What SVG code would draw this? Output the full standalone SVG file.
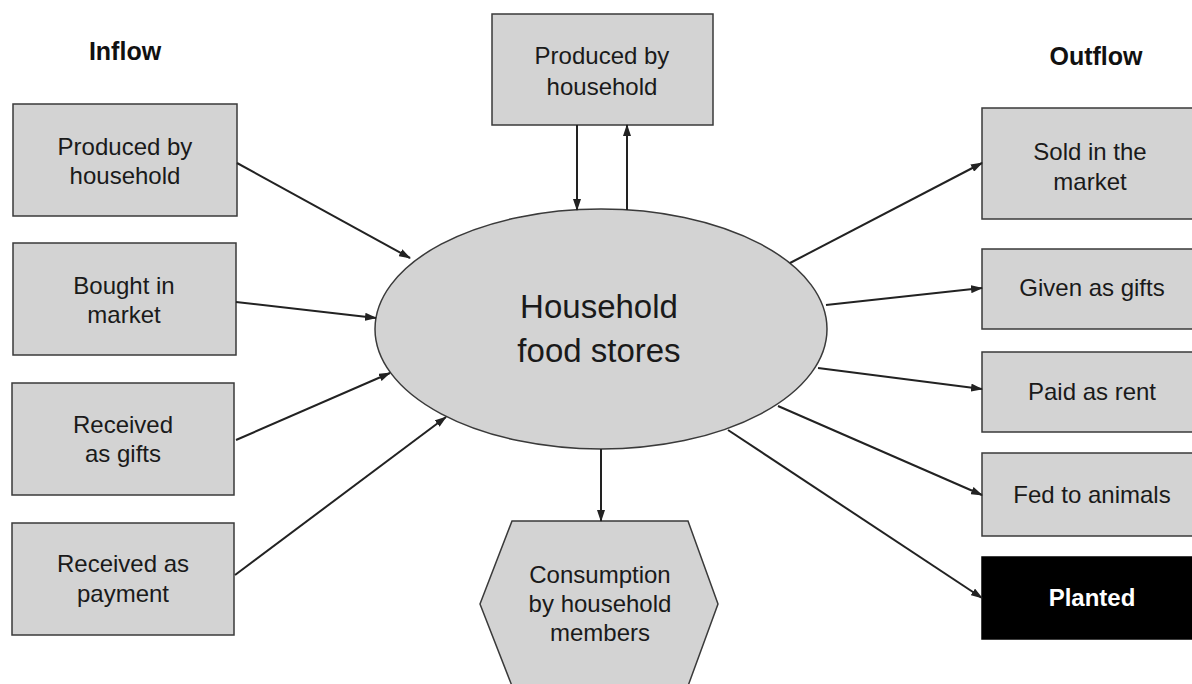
<svg xmlns="http://www.w3.org/2000/svg" width="1192" height="684" viewBox="0 0 1192 684">
<style>
.box{fill:#d3d3d3;stroke:#3a3a3a;stroke-width:1.5}
.dark{fill:#000;stroke:#000;stroke-width:1.5}
.t{font-family:"Liberation Sans",Arial,sans-serif;font-size:24px;fill:#1a1a1a;text-anchor:middle}
.big{font-size:33px}
.w{fill:#fff;font-weight:bold}
.h{font-family:"Liberation Sans",Arial,sans-serif;font-size:25px;font-weight:bold;fill:#111;text-anchor:middle}
.c{fill:none;stroke:#222;stroke-width:2;marker-end:url(#ah)}
</style>
<defs>
<marker id="ah" markerUnits="userSpaceOnUse" markerWidth="12" markerHeight="8" refX="11" refY="4" orient="auto">
<path d="M0,0 L12,4 L0,8 z" fill="#222"/>
</marker>
</defs>
<rect width="1192" height="684" fill="#fff"/>
<g id="headings">
<text class="h" x="125" y="60">Inflow</text>
<text class="h" x="1096" y="65">Outflow</text>
</g>
<g id="center">
<ellipse class="box" cx="601" cy="329" rx="226" ry="120"/>
<text class="t big" x="599" y="318">Household</text>
<text class="t big" x="599" y="362">food stores</text>
</g>
<g id="top-produced">
<rect class="box" x="492" y="14" width="221" height="111"/>
<text class="t" x="602" y="64">Produced by</text>
<text class="t" x="602" y="95">household</text>
</g>
<g id="in-produced">
<rect class="box" x="13" y="104" width="224" height="112"/>
<text class="t" x="125" y="155">Produced by</text>
<text class="t" x="125" y="184">household</text>
</g>
<g id="in-bought">
<rect class="box" x="13" y="243" width="223" height="112"/>
<text class="t" x="124" y="294">Bought in</text>
<text class="t" x="124" y="323">market</text>
</g>
<g id="in-gifts">
<rect class="box" x="12" y="383" width="222" height="112"/>
<text class="t" x="123" y="433">Received</text>
<text class="t" x="123" y="462">as gifts</text>
</g>
<g id="in-payment">
<rect class="box" x="12" y="523" width="222" height="112"/>
<text class="t" x="123" y="572">Received as</text>
<text class="t" x="123" y="602">payment</text>
</g>
<g id="out-sold">
<rect class="box" x="982" y="108" width="220" height="111"/>
<text class="t" x="1090" y="160">Sold in the</text>
<text class="t" x="1090" y="190">market</text>
</g>
<g id="out-given">
<rect class="box" x="982" y="249" width="220" height="80"/>
<text class="t" x="1092" y="296">Given as gifts</text>
</g>
<g id="out-paid">
<rect class="box" x="982" y="352" width="220" height="80"/>
<text class="t" x="1092" y="400">Paid as rent</text>
</g>
<g id="out-fed">
<rect class="box" x="982" y="453" width="220" height="83"/>
<text class="t" x="1092" y="503">Fed to animals</text>
</g>
<g id="out-planted">
<rect class="dark" x="982" y="557" width="220" height="82"/>
<text class="t w" x="1092" y="606">Planted</text>
</g>
<g id="consumption">
<polygon class="box" points="512,521 688,521 718,604 688,686 512,686 480,604"/>
<text class="t" x="600" y="583">Consumption</text>
<text class="t" x="600" y="612">by household</text>
<text class="t" x="600" y="641">members</text>
</g>
<g id="connectors">
<line class="c" x1="577" y1="125" x2="577" y2="210"/>
<line class="c" x1="627" y1="210" x2="627" y2="125"/>
<line class="c" x1="237" y1="163" x2="410" y2="258"/>
<line class="c" x1="236" y1="302" x2="376" y2="318"/>
<line class="c" x1="236" y1="440" x2="390" y2="373"/>
<line class="c" x1="235" y1="575" x2="446" y2="417"/>
<line class="c" x1="790" y1="263" x2="982" y2="163"/>
<line class="c" x1="826" y1="305" x2="982" y2="288"/>
<line class="c" x1="818" y1="368" x2="982" y2="389"/>
<line class="c" x1="778" y1="406" x2="982" y2="495"/>
<line class="c" x1="728" y1="430" x2="982" y2="598"/>
<line class="c" x1="601" y1="449" x2="601" y2="521"/>
</g>
</svg>
